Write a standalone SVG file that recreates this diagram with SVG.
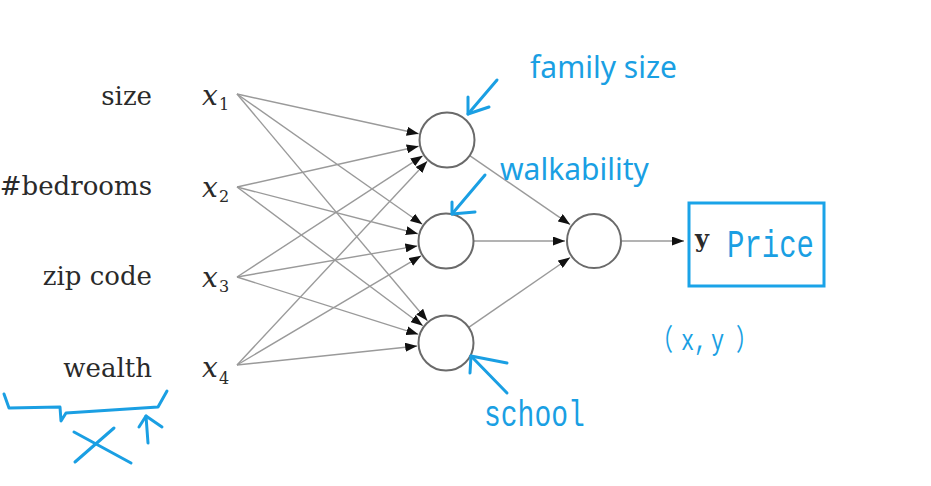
<svg xmlns="http://www.w3.org/2000/svg" width="931" height="486" viewBox="0 0 931 486">
<style>
.lbl{font-family:"DejaVu Serif","Liberation Serif",serif;font-size:26px;fill:#2a2a2a;text-anchor:end}
.xv{font-family:"DejaVu Serif","Liberation Serif",serif;font-style:italic;font-size:28px;fill:#2a2a2a}
.sub{font-family:"DejaVu Serif","Liberation Serif",serif;font-size:16px;fill:#2a2a2a}
.edge{stroke:#9a9a9a;stroke-width:1.4;fill:none;marker-end:url(#ah)}
.node{fill:#fff;stroke:#6a6a6a;stroke-width:2}
.ann{stroke:#1a9fe3;stroke-width:3;fill:none;stroke-linecap:round;stroke-linejoin:round}
.bsans{font-family:"Noto Sans","Open Sans",sans-serif;font-size:30px;fill:#1a9fe3}
.bmono{font-family:"Liberation Mono",monospace;fill:#1a9fe3}
.cjk{font-family:"Noto Sans CJK SC",sans-serif}
</style>
<defs>
<marker id="ah" markerUnits="userSpaceOnUse" markerWidth="12" markerHeight="9" refX="12" refY="4.5" orient="auto">
<path d="M0,0 L12,4.5 L0,9 z" fill="#111"/>
</marker>
</defs>
<rect width="931" height="486" fill="#fff"/>
<g id="labels">
<text class="lbl" x="152" y="105">size</text>
<text class="lbl" x="152" y="195">#bedrooms</text>
<text class="lbl" x="152" y="285">zip code</text>
<text class="lbl" x="152" y="377">wealth</text>
</g>
<g id="x1"><text class="xv" x="202" y="105">x</text><text class="sub" x="219" y="110">1</text></g>
<g id="x2"><text class="xv" x="202" y="197">x</text><text class="sub" x="219" y="202">2</text></g>
<g id="x3"><text class="xv" x="202" y="287">x</text><text class="sub" x="219" y="292">3</text></g>
<g id="x4"><text class="xv" x="202" y="377">x</text><text class="sub" x="219" y="384">4</text></g>
<g id="connectors">
<line class="edge" x1="237" y1="94" x2="418.7" y2="133.8"/>
<line class="edge" x1="237" y1="94" x2="422.3" y2="224.3"/>
<line class="edge" x1="237" y1="94" x2="427.4" y2="320.8"/>
<line class="edge" x1="237" y1="187" x2="418.7" y2="146.3"/>
<line class="edge" x1="237" y1="187" x2="417.9" y2="233.7"/>
<line class="edge" x1="237" y1="187" x2="422.8" y2="325.7"/>
<line class="edge" x1="237" y1="277" x2="422.7" y2="155.8"/>
<line class="edge" x1="237" y1="277" x2="417.4" y2="245.9"/>
<line class="edge" x1="237" y1="277" x2="418.3" y2="334.3"/>
<line class="edge" x1="237" y1="365" x2="427.2" y2="161.2"/>
<line class="edge" x1="237" y1="365" x2="421.1" y2="255.8"/>
<line class="edge" x1="237" y1="365" x2="417.2" y2="346"/>
<line class="edge" x1="470.1" y1="155.9" x2="570.1" y2="224.6"/>
<line class="edge" x1="474" y1="241" x2="565" y2="241"/>
<line class="edge" x1="469.1" y1="327.1" x2="570.1" y2="257.5"/>
<line class="edge" x1="622" y1="241" x2="684" y2="241"/>
</g>
<g id="h1"><circle class="node" cx="447" cy="140" r="27.5"/></g>
<g id="h2"><circle class="node" cx="446" cy="241" r="27.5"/></g>
<g id="h3"><circle class="node" cx="446" cy="343" r="27.5"/></g>
<g id="out"><circle class="node" cx="594" cy="241" r="27"/></g>
<g id="price">
<rect x="689" y="203" width="135" height="83" fill="none" stroke="#1aa3e8" stroke-width="3"/>
<text x="695" y="247" font-family="DejaVu Serif,serif" font-weight="bold" font-size="24" fill="#2a2a2a">y</text>
<text class="bmono" font-size="29" transform="translate(727,257) scale(1,1.35)">Price</text>
</g>
<g id="annotations">
<text class="bsans" x="530" y="78">family size</text>
<polyline class="ann" points="497,80 468,114"/>
<polyline class="ann" points="468,97 468,114 489,107"/>
<text class="bsans" x="500" y="180">walkability</text>
<polyline class="ann" points="485,175 452,214"/>
<polyline class="ann" points="452,202 452,214 475,212"/>
<text class="bmono" font-size="28" transform="translate(484,426) scale(1,1.35)">school</text>
<polyline class="ann" points="507,393 471,356"/>
<polyline class="ann" points="507,363 471,356 470,373"/>
<text class="bmono" font-size="22" transform="translate(0,350) scale(1,1.35)"><tspan class="cjk" x="651">（</tspan><tspan x="681">x</tspan><tspan x="694">,</tspan><tspan x="711">y</tspan><tspan class="cjk" x="736">）</tspan></text>
<polyline class="ann" points="4,394 9,408 60,407 61,421 66,413 158,407 167,391"/>
<polyline class="ann" points="148,443 146,416"/>
<polyline class="ann" points="139,427 146,416 162,427"/>
<polyline class="ann" points="74,432 131,463"/>
<polyline class="ann" points="114,428 75,462"/>
</g>
</svg>
